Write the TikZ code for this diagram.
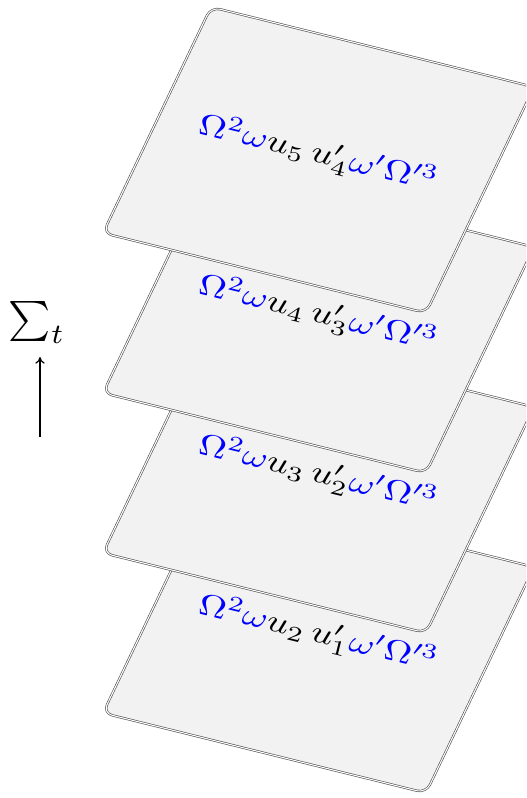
\documentclass[tikz,border=0pt]{standalone}
\usetikzlibrary{arrows.meta}
\newcommand{\planetext}[2]{\scalebox{1.25}[1]{$\textcolor{blue}{\Omega^2\omega}u_{#1}\,u'_{#2}\textcolor{blue}{\omega'\Omega'^3}$}}
\begin{document}
\begin{tikzpicture}[x=0.75pt,y=-0.75pt,
  plane/.style={draw=gray!60!black,double=white,double distance=0.8pt,line width=0.45pt,
    fill=gray!10,rounded corners=7pt},
  planelabel/.style={rotate=-13.8,scale=2.3,inner sep=0pt},
  sumlabel/.style={scale=3,inner sep=0pt}]
\useasboundingbox (0,0) rectangle (526,798);
\clip (0,0) rectangle (526,798);
\foreach \k/\a/\b in {3/2/1,2/3/2,1/4/3,0/5/4}{
  \begin{scope}[yshift={-120pt*\k}]
    \path[plane] (211,7) -- (534,87) -- (426,313) -- (103,233) -- cycle;
    \node[planelabel] (t\k) at (318,154) {\planetext{\a}{\b}};
  \end{scope}
}
\node[sumlabel] (sig) at (37,322) {$\sum_t$};
\coordinate (abot) at (40,437);
\coordinate (atop) at (40,357);
\draw[line width=0.9pt,-{To[length=5pt,width=7pt]}] (abot) -- (atop);
\end{tikzpicture}
\end{document}
